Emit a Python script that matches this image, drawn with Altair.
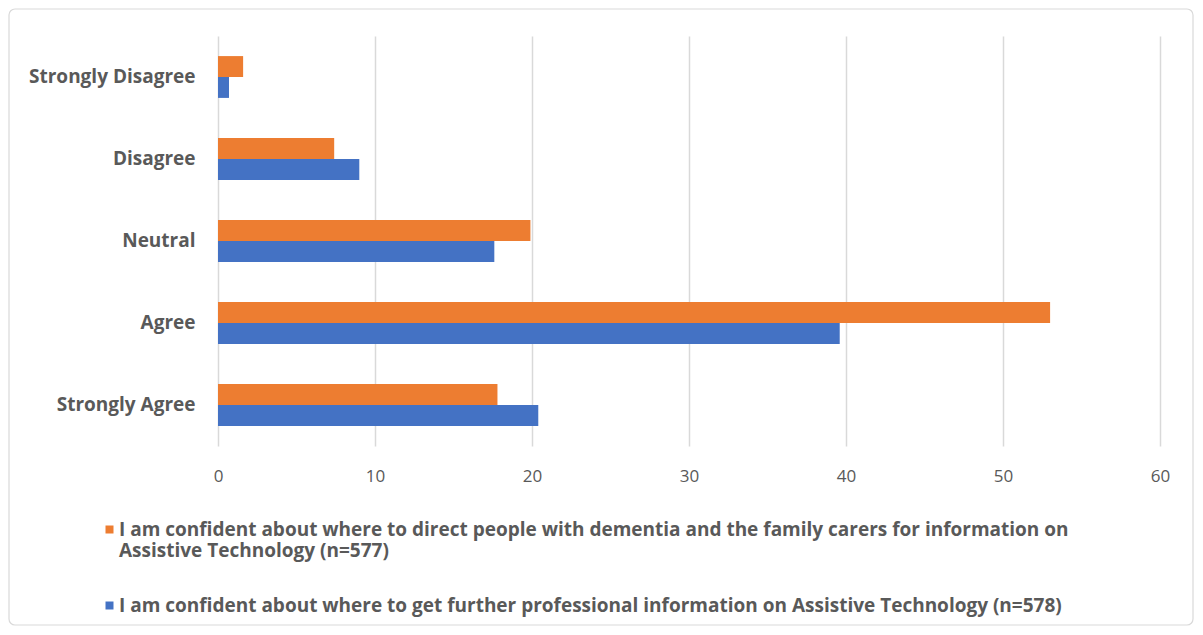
import altair as alt
import pandas as pd

categories = ["Strongly Disagree", "Disagree", "Neutral", "Agree", "Strongly Agree"]
series_direct = ("I am confident about where to direct people with dementia and the family carers "
                 "for information on Assistive Technology (n=577)")
series_get = "I am confident about where to get further professional information on Assistive Technology (n=578)"
direct_values = [1.6, 7.4, 19.9, 53.0, 17.8]
get_values = [0.7, 9.0, 17.6, 39.6, 20.4]
x_ticks = [0, 10, 20, 30, 40, 50, 60]
series_order = [series_direct, series_get]
series_colors = ["#ED7D31", "#4472C4"]
direct_label_lines = ["I am confident about where to direct people with dementia and the family carers for information on",
                      "Assistive Technology (n=577)"]

rows = []
for c, v in zip(categories, direct_values):
    rows.append({"category": c, "series": series_direct, "value": v})
for c, v in zip(categories, get_values):
    rows.append({"category": c, "series": series_get, "value": v})
df = pd.DataFrame(rows)

FONT = "'Open Sans', 'Liberation Sans', sans-serif"
TXT = "#595959"

label_expr = ("datum.label == '%s' ? ['%s', '%s'] : datum.label"
              % (series_direct, direct_label_lines[0], direct_label_lines[1]))

bars = alt.Chart(df).mark_bar().encode(
    y=alt.Y("category:N", sort=categories,
            scale=alt.Scale(paddingInner=0.49, paddingOuter=0.245),
            axis=alt.Axis(title=None, labelFont=FONT, labelFontWeight="bold", labelFontSize=19,
                          labelColor=TXT, labelPadding=23, ticks=False, domain=False, grid=False)),
    x=alt.X("value:Q", scale=alt.Scale(domain=[0, 60], nice=False),
            axis=alt.Axis(values=x_ticks, title=None, grid=True, gridColor="#D9D9D9", gridWidth=1.5,
                          domain=False, ticks=False, labelPadding=22, labelFont=FONT, labelFontSize=17,
                          labelColor=TXT, labelFlush=False)),
    yOffset=alt.YOffset("series:N", sort=series_order),
    color=alt.Color("series:N", scale=alt.Scale(domain=series_order, range=series_colors),
                    legend=alt.Legend(title=None, orient="none", legendX=-118, legendY=484,
                                      direction="vertical", symbolType="square", symbolSize=64,
                                      symbolStrokeWidth=0, labelFont=FONT, labelFontSize=19,
                                      labelFontWeight="bold", labelColor=TXT, labelLimit=2000,
                                      labelOffset=0, labelExpr=label_expr, labelBaseline="middle",
                                      rowPadding=35)),
)

border = alt.Chart(pd.DataFrame({"a": [0]})).mark_rect(
    fill="transparent", stroke="#D9D9D9", strokeWidth=1.2, cornerRadius=6
).encode(x=alt.value(-209), x2=alt.value(975), y=alt.value(-27), y2=alt.value(589))

chart = alt.layer(border, bars).properties(
    width=942, height=410,
    autosize=alt.AutoSizeParams(type="none"),
    padding={"left": 210, "top": 28, "right": 35, "bottom": 181},
).configure_view(stroke=None)

chart.save("out.html", embed_options={"renderer": "svg", "actions": False})
